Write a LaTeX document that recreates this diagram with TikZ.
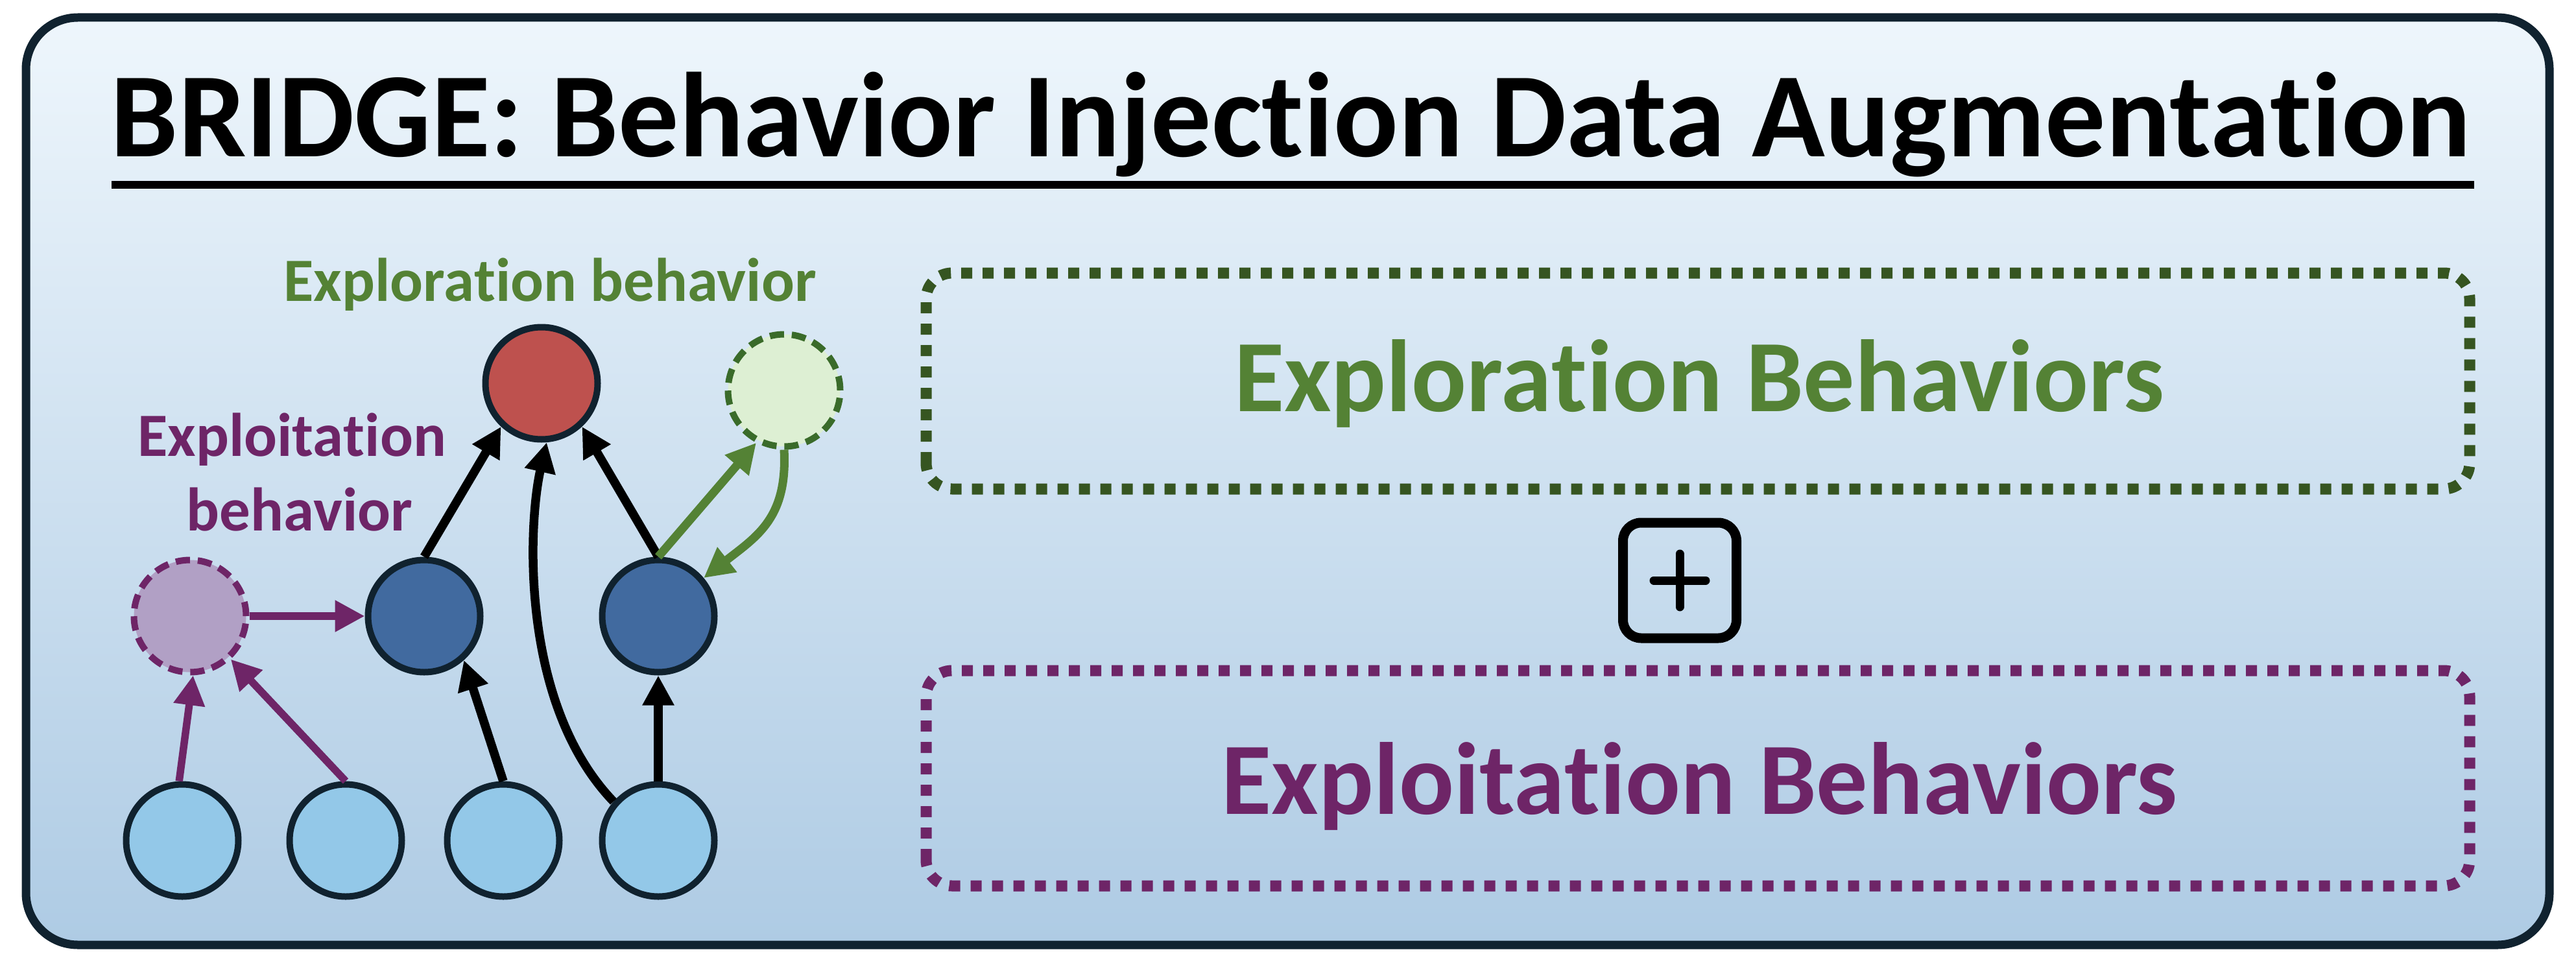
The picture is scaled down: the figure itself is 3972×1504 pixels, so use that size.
\documentclass[tikz,border=0pt]{standalone}
\usepackage{fontspec}
\setmainfont{Carlito}[Ligatures=NoCommon, Contextuals=NoAlternate]
\usetikzlibrary{arrows.meta}

% keeps "t" and "i" as separate glyphs
\newcommand\tbreak{\kern0pt }

\definecolor{frameink}{HTML}{10222F}
\definecolor{bgtop}{HTML}{EEF6FC}
\definecolor{bgbot}{HTML}{AECBE4}
\definecolor{leafblue}{HTML}{93C8E8}
\definecolor{midblue}{HTML}{416A9F}
\definecolor{rootred}{HTML}{BE514E}
\definecolor{exgreen}{HTML}{548235}
\definecolor{exgreenring}{HTML}{3A6B2A}
\definecolor{exgreendots}{HTML}{365521}
\definecolor{exgreenfill}{HTML}{DDEFD3}
\definecolor{expurple}{HTML}{6E2567}
\definecolor{expurplefill}{HTML}{B1A0C5}

\tikzset{
  gnode/.style={circle, minimum size=17.3mm, inner sep=0pt, line width=1mm, draw=frameink},
  leaf/.style={gnode, fill=leafblue},
  mid/.style={gnode, fill=midblue},
  root/.style={gnode, fill=rootred},
  greenghost/.style={gnode, fill=exgreenfill, draw=exgreenring, dash pattern=on 2.2mm off 1.2mm},
  purpleghost/.style={gnode, fill=expurplefill, draw=expurple, dash pattern=on 2.2mm off 1.2mm},
  tipped/.style={-{Triangle[length=4.6mm,width=4.6mm]}},
  blackarrow/.style={tipped, line width=1.35mm, draw=black},
  greenarrow/.style={tipped, line width=1.3mm, draw=exgreen},
  purplearrow/.style={tipped, line width=1.15mm, draw=expurple},
  label/.style={inner sep=0pt, anchor=base, font=\fontsize{27pt}{30pt}\selectfont\bfseries},
  bigtext/.style={inner sep=0pt, anchor=base, font=\fontsize{45pt}{52pt}\selectfont\bfseries},
  dotbox/.style={line width=1.7mm, dash pattern=on 1.7mm off 1.6mm, rounded corners=4mm},
}

\begin{document}
\begin{tikzpicture}[x=0.1mm, y=0.1mm]
  \useasboundingbox (0,0) rectangle (3972,1504);

  % frame with vertical gradient
  \draw[line width=1.3mm, draw=frameink, rounded corners=8mm, top color=bgtop, bottom color=bgbot]
    (40,47) rectangle (3931,1477);

  % title and its rule
  \node[inner sep=0pt, anchor=base, font=\fontsize{52.9pt}{60pt}\selectfont\bfseries] (title) at (1990,1263)
    {BRIDGE: Behavior Injec\tbreak tion Data Augmenta\tbreak tion};
  \draw[line width=1.2mm] (172,1219) -- (3815,1219);

  % graph labels
  \node[label, text=exgreen] (lblexplore) at (848,1040) {Explora\tbreak tion behavior};
  \node[label, text=expurple] (lblexploitA) at (450,801) {Exploita\tbreak tion};
  \node[label, text=expurple] (lblexploitB) at (462,686) {behavior};

  % graph nodes
  \node[root] (red) at (835,913) {};
  \node[greenghost] (gc) at (1209,902) {};
  \node[purpleghost] (pc) at (293,554) {};
  \node[mid] (m1) at (654,554) {};
  \node[mid] (m2) at (1015,554) {};
  \node[leaf] (b1) at (281,208) {};
  \node[leaf] (b2) at (533,208) {};
  \node[leaf] (b3) at (776,208) {};
  \node[leaf] (b4) at (1015,208) {};

  % edges
  \draw[blackarrow] (m1.north) -- (red.-133);
  \draw[blackarrow] (m2.north) -- (red.-47);
  \draw[blackarrow] (b4.139) .. controls (800,420) and (815,700) .. (red.-85);
  \draw[blackarrow] (b3.north) -- (m1.-48);
  \draw[blackarrow] (b4.north) -- (m2.south);
  \draw[purplearrow] (b1.93) -- (pc.-87);
  \draw[purplearrow] (b2.north) -- (pc);
  \draw[purplearrow] (pc.east) -- (m1.west);
  \draw[greenarrow] (m2.north) -- (gc.-118);
  \draw[greenarrow] (gc.south) to[out=-87, in=38, looseness=1.15] (m2.40);

  % behaviour boxes
  \draw[dotbox, draw=exgreendots] (1428,750) rectangle (3808,1083);
  \node[bigtext, text=exgreen] (explore) at (2620,870) {Explora\tbreak tion Behaviors};
  \draw[dotbox, draw=expurple] (1428,138) rectangle (3808,470);
  \node[bigtext, text=expurple] (exploit) at (2620,249) {Exploita\tbreak tion Behaviors};

  % plus sign between the boxes
  \node[draw=black, line width=1.5mm, rounded corners=2.8mm, minimum width=17.5mm, minimum height=17.8mm, inner sep=0pt] (plusbox) at (2590,609) {};
  \draw[line width=1.3mm, line cap=round] ([xshift=-4mm]plusbox.center) -- ([xshift=4mm]plusbox.center);
  \draw[line width=1.3mm, line cap=round] ([yshift=-4.1mm]plusbox.center) -- ([yshift=4.1mm]plusbox.center);
\end{tikzpicture}
\end{document}
